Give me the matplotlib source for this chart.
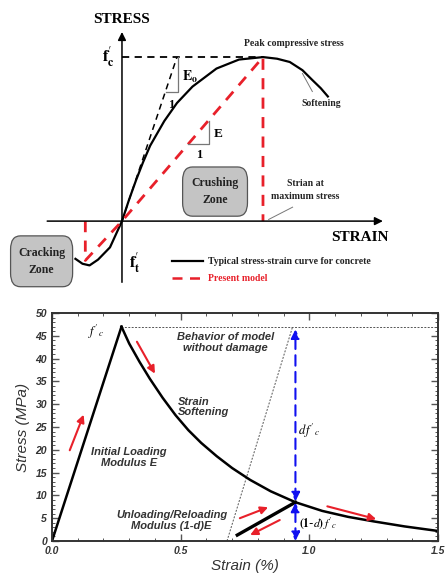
import numpy as np
import matplotlib.pyplot as plt
from matplotlib.patches import FancyBboxPatch
from matplotlib.ticker import MultipleLocator, FormatStrFormatter

plt.rcParams['mathtext.fontset'] = 'stix'

# --- top schematic (normalised strain / stress, peak = (1, 1)) ---
typ_strain = [-0.33, -0.28, -0.23, -0.17, -0.085, 0.0, 0.05, 0.1, 0.15, 0.2, 0.3, 0.39,
              0.5, 0.67, 0.83, 1.0, 1.1, 1.19, 1.28, 1.35, 1.41, 1.46]
typ_stress = [-0.23, -0.26, -0.27, -0.235, -0.16, 0.0, 0.13, 0.25, 0.36, 0.46, 0.61, 0.72,
              0.82, 0.93, 0.985, 1.0, 0.99, 0.97, 0.92, 0.86, 0.81, 0.76]
model_strain = [-0.26, -0.26, 0.0, 1.0, 1.0]
model_stress = [0.0, -0.24, 0.0, 1.0, 0.0]
e0_strain = [0.0, 0.39]
e0_stress = [0.0, 1.0]

# --- bottom damage model (strain %, stress MPa) ---
load_strain = [0.0, 0.27]
load_stress = [0.0, 47.0]
soft_strain = [0.27, 0.30, 0.34, 0.38, 0.43, 0.48, 0.53, 0.58, 0.64, 0.70, 0.77, 0.85,
               0.946, 1.05, 1.15, 1.25, 1.37, 1.5]
soft_stress = [47.0, 43.3, 39.3, 35.6, 31.4, 27.6, 24.3, 21.5, 18.6, 16.0, 13.4, 10.9,
               8.5, 6.6, 5.3, 4.3, 3.2, 2.2]
unload_strain = [0.72, 0.946]
unload_stress = [1.3, 8.5]
nodmg_strain = [0.68, 0.935]
nodmg_stress = [0.0, 47.0]
fc = 47.0
d_strain = 0.946
d_stress = 8.5

RED = '#e8202a'
BLUE = '#1010f0'

fig = plt.figure(figsize=(4.48, 5.76), dpi=100)

# ================= top panel =================
ax1 = fig.add_axes([0, 1 - 290 / 576, 1, 290 / 576])
ax1.set_xlim(-0.865, 2.312)
ax1.set_ylim(-0.42, 1.348)
ax1.axis('off')
serif = 'Liberation Serif'

# axes with arrows
ax1.annotate('', xy=(1.87, 0), xytext=(-0.55, 0),
             arrowprops=dict(arrowstyle='-|>', color='black', lw=1.1, mutation_scale=12))
ax1.annotate('', xy=(0, 1.17), xytext=(0, -0.39),
             arrowprops=dict(arrowstyle='-|>', color='black', lw=1.1, mutation_scale=12))

ax1.plot([0, 1], [1, 1], color='black', lw=1.3, ls=(0, (4, 3)))
ax1.plot(e0_strain, e0_stress, color='black', lw=1.1, ls=(0, (4, 3)))
ax1.plot(typ_strain, typ_stress, color='black', lw=1.6)
ax1.plot(model_strain, model_stress, color=RED, lw=2.0, ls=(0, (4, 3)))

# slope triangles
ax1.plot([0.31, 0.40, 0.40], [0.79, 0.79, 1.0], color='#777777', lw=0.9)
ax1.text(0.425, 0.88, r'$\mathbf{E_o}$', fontsize=10, va='center')
ax1.text(0.35, 0.71, '1', fontsize=9, fontweight='bold', ha='center', va='center', family=serif)
ax1.plot([0.47, 0.62, 0.62], [0.47, 0.47, 0.61], color='#777777', lw=0.9)
ax1.text(0.65, 0.53, 'E', fontsize=9.5, fontweight='bold', va='center', family=serif)
ax1.text(0.55, 0.40, '1', fontsize=9, fontweight='bold', ha='center', va='center', family=serif)

ax1.text(-0.05, 1.0, r"$\mathbf{f}_\mathbf{c}^{\prime}$", fontsize=12, ha='right', va='center')
ax1.text(0.05, -0.25, r"$\mathbf{f}_\mathbf{t}^{\prime}$", fontsize=12, ha='left', va='center')
ax1.text(-0.005, 1.23, 'STRESS', fontsize=11, fontweight='bold', ha='center', va='center', family=serif)
ax1.text(1.69, -0.10, 'STRAIN', fontsize=11, fontweight='bold', ha='center', va='center', family=serif)
ax1.text(1.22, 1.08, 'Peak compressive stress', fontsize=7, fontweight='bold', ha='center',
         va='center', family=serif, color='#222222')
ax1.text(1.41, 0.72, 'Softening', fontsize=7, fontweight='bold', ha='center', va='center',
         family=serif, color='#222222')
ax1.plot([1.28, 1.35], [0.90, 0.79], color='#777777', lw=0.7)
ax1.text(1.30, 0.19, 'Strian at\nmaximum stress', fontsize=7, fontweight='bold', ha='center',
         va='center', family=serif, color='#222222', linespacing=1.6)
ax1.plot([1.04, 1.21], [0.01, 0.085], color='#777777', lw=0.7)

for (x0, y0, w, h, lab) in [(0.43, 0.03, 0.46, 0.30, 'Crushing\nZone'),
                            (-0.79, -0.40, 0.44, 0.31, 'Cracking\nZone')]:
    box = FancyBboxPatch((x0, y0), w, h, boxstyle='round,pad=0,rounding_size=0.07',
                         facecolor='#c4c4c4', edgecolor='#555555', lw=0.9,
                         mutation_aspect=164 / 141)
    ax1.add_patch(box)
    ax1.text(x0 + w / 2, y0 + h / 2, lab, fontsize=8.5, fontweight='bold', ha='center',
             va='center', family=serif, linespacing=1.5, color='#222222')

# legend
ax1.plot([0.355, 0.574], [-0.244, -0.244], color='black', lw=1.6)
ax1.text(0.61, -0.244, 'Typical stress-strain curve for concrete', fontsize=7, fontweight='bold',
         va='center', family=serif, color='#222222')
ax1.plot([0.355, 0.574], [-0.348, -0.348], color=RED, lw=1.8, ls=(0, (4, 3)))
ax1.text(0.61, -0.348, 'Present model', fontsize=7, fontweight='bold', va='center',
         family=serif, color=RED)

# ================= bottom panel =================
sans = 'Liberation Sans'
ax2 = fig.add_axes([52 / 448, 35 / 576, 386 / 448, 228 / 576])
ax2.set_xlim(0, 1.5)
ax2.set_ylim(0, 50)

ax2.plot([load_strain[1], 1.5], [fc, fc], color='#555555', lw=0.7, ls=(0, (2, 1.5)))
ax2.plot(nodmg_strain, nodmg_stress, color='#555555', lw=0.7, ls=(0, (2, 1.5)))
ax2.plot(load_strain, load_stress, color='black', lw=1.8)
ax2.plot(soft_strain, soft_stress, color='black', lw=1.8)
ax2.plot(unload_strain, unload_stress, color='black', lw=2.4)

# blue dashed double arrows
for y0, y1 in [(d_stress + 0.2, fc - 0.6), (0.0, d_stress - 0.1)]:
    ax2.annotate('', xy=(d_strain, y1), xytext=(d_strain, y0),
                 arrowprops=dict(arrowstyle='<|-|>', color=BLUE, lw=1.5, ls=(0, (5, 3)),
                                 mutation_scale=13, shrinkA=0, shrinkB=0))

# red arrows
red_arrows = [((0.069, 19.9), (0.123, 27.7)), ((0.33, 43.7), (0.40, 36.7)),
              ((0.73, 5.0), (0.84, 7.4)), ((0.885, 4.6), (0.77, 1.3)),
              ((1.07, 7.6), (1.26, 4.8))]
for (xs, ys), (xe, ye) in red_arrows:
    ax2.annotate('', xy=(xe, ye), xytext=(xs, ys),
                 arrowprops=dict(arrowstyle='-|>', color=RED, lw=1.5, mutation_scale=11,
                                 shrinkA=0, shrinkB=0))

txt = dict(fontsize=8, fontweight='bold', fontstyle='italic', family=sans, color='#333333',
           ha='center', va='center', linespacing=1.1)
ax2.text(0.675, 43.6, 'Behavior of model\nwithout damage', **txt)
ax2.text(0.49, 29.4, 'Strain\nSoftening', **{**txt, 'ha': 'left'})
ax2.text(0.30, 18.3, 'Initial Loading\nModulus E', **txt)
ax2.text(0.465, 4.5, 'Unloading/Reloading\nModulus (1-d)E', **txt)
ax2.text(0.17, 45.9, r"$f'_c$", fontsize=9, ha='center', va='center')
ax2.text(0.955, 24.2, r"$d\,f'_c$", fontsize=9, ha='left', va='center')
ax2.text(0.96, 3.9, r"$\mathbf{(1}$-$d\mathbf{)}\,f'_c$", fontsize=8.5, ha='left', va='center')

ax2.xaxis.set_major_locator(MultipleLocator(0.5))
ax2.xaxis.set_minor_locator(MultipleLocator(0.1))
ax2.yaxis.set_major_locator(MultipleLocator(5))
ax2.yaxis.set_minor_locator(MultipleLocator(1))
ax2.xaxis.set_major_formatter(FormatStrFormatter('%.1f'))
ax2.tick_params(which='both', direction='in', top=True, right=True, colors='#555555',
                labelcolor='#333333')
ax2.tick_params(which='major', length=5, width=1.0)
ax2.tick_params(which='minor', length=2.5, width=0.7)
for lab in ax2.get_xticklabels() + ax2.get_yticklabels():
    lab.set_fontsize(7.5)
    lab.set_fontstyle('italic')
    lab.set_fontweight('bold')
    lab.set_family(sans)
for sp in ax2.spines.values():
    sp.set_linewidth(1.4)
    sp.set_color('#333333')
ax2.set_xlabel('Strain (%)', fontsize=11, fontstyle='italic', family=sans, color='#333333',
               labelpad=2)
ax2.set_ylabel('Stress (MPa)', fontsize=11, fontstyle='italic', family=sans, color='#333333',
               labelpad=4)

fig.savefig('out.png', dpi=100)
